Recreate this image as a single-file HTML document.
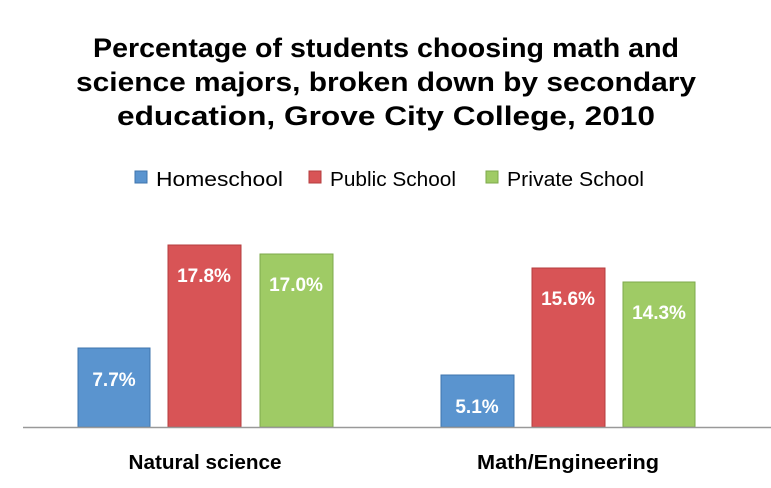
<!DOCTYPE html>
<html><head><style>
body{margin:0;width:771px;height:483px;background:#fff;font-family:"Liberation Sans",sans-serif;overflow:hidden}
</style></head><body>
<svg width="771" height="483" xmlns="http://www.w3.org/2000/svg" font-family="Liberation Sans, sans-serif">
<g font-size="27" font-weight="bold" text-anchor="middle" fill="#000">
<text x="386" y="57" textLength="586" lengthAdjust="spacingAndGlyphs">Percentage of students choosing math and</text>
<text x="386" y="91" textLength="620" lengthAdjust="spacingAndGlyphs">science majors, broken down by secondary</text>
<text x="386" y="125" textLength="538" lengthAdjust="spacingAndGlyphs">education, Grove City College, 2010</text>
</g>
<g font-size="20" fill="#000">
<rect x="135" y="171" width="12" height="12" fill="#5a94cf" stroke="#3f74ad"/>
<text x="156" y="186" textLength="127" lengthAdjust="spacingAndGlyphs">Homeschool</text>
<rect x="309" y="171" width="12" height="12" fill="#d85456" stroke="#b43c3e"/>
<text x="330" y="186" textLength="126" lengthAdjust="spacingAndGlyphs">Public School</text>
<rect x="486" y="171" width="12" height="12" fill="#9fcb65" stroke="#7ea84b"/>
<text x="507" y="186" textLength="137" lengthAdjust="spacingAndGlyphs">Private School</text>
</g>
<g stroke-width="1">
<rect x="78" y="348" width="72" height="79" fill="#5a94cf" stroke="#3f74ad"/>
<rect x="168" y="245" width="73" height="182" fill="#d85456" stroke="#b43c3e"/>
<rect x="260" y="254" width="73" height="173" fill="#9fcb65" stroke="#7ea84b"/>
<rect x="441" y="375" width="73" height="52" fill="#5a94cf" stroke="#3f74ad"/>
<rect x="532" y="268" width="73" height="159" fill="#d85456" stroke="#b43c3e"/>
<rect x="623" y="282" width="72" height="145" fill="#9fcb65" stroke="#7ea84b"/>
</g>
<line x1="23" y1="427.5" x2="771" y2="427.5" stroke="#999" stroke-width="1.5"/>
<g font-size="19" font-weight="bold" fill="#fff" text-anchor="middle">
<text x="114" y="386">7.7%</text>
<text x="204" y="282">17.8%</text>
<text x="296" y="291">17.0%</text>
<text x="477" y="413">5.1%</text>
<text x="568" y="305">15.6%</text>
<text x="659" y="319">14.3%</text>
</g>
<g font-size="20" font-weight="bold" fill="#000" text-anchor="middle">
<text x="205" y="469" textLength="153" lengthAdjust="spacingAndGlyphs">Natural science</text>
<text x="568" y="469" textLength="182" lengthAdjust="spacingAndGlyphs">Math/Engineering</text>
</g>
</svg>
</body></html>
